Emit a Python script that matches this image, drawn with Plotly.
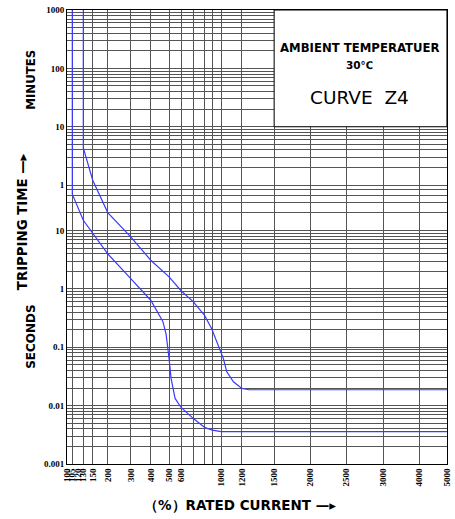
import numpy as np
import plotly.graph_objects as go

# ---- chart-paper current scale (% rated current -> paper units) ----
SCALE_PCT = [100, 105, 120, 130, 150, 200, 300, 400, 500, 600, 700, 800, 900,
             1000, 1200, 1500, 2000, 2500, 3000, 4000, 5000]
SCALE_UNIT = [0, 5.3, 11, 16.3, 25.7, 40.7, 63.7, 83.7, 102, 114, 126.3, 137.3,
              145.3, 154, 174.7, 207, 243, 279, 316, 352.3, 379.7]

X_LABELED = [100, 105, 120, 130, 150, 200, 300, 400, 500, 600, 1000, 1200,
             1500, 2000, 2500, 3000, 4000, 5000]
X_GRID = [100, 105, 130, 150, 200, 300, 400, 500, 600, 700, 800, 900, 1000,
          1200, 1500, 2000, 2500, 3000, 4000, 5000]

# ---- y axis: tripping time in seconds ----
Y_TICKS = [0.001, 0.01, 0.1, 1, 10, 60, 600, 6000, 60000]
Y_TICKTEXT = ["0.001", "0.01", "0.1", "1", "10", "1", "10", "100", "1000"]

# ---- curves (current %, seconds) ----
LOWER_PCT = [105, 105, 130, 150, 200, 300, 400, 466, 484, 500, 517, 550, 600,
             700, 808, 900, 1000, 5000]
LOWER_SEC = [60000, 41.9, 15, 8.9, 4.0, 1.5, 0.64, 0.277, 0.166, 0.064, 0.029,
             0.0133, 0.0093, 0.006, 0.0042, 0.0038, 0.0036, 0.0036]

UPPER_PCT = [130, 130, 150, 200, 300, 400, 500, 600, 700, 800, 890, 943, 989,
             1022, 1055, 1119, 1200, 1268, 5000]
UPPER_SEC = [60000, 260, 72.6, 20.3, 7.8, 3.1, 1.61, 0.93, 0.60, 0.355, 0.21,
             0.13, 0.088, 0.064, 0.038, 0.0256, 0.0197, 0.0187, 0.0187]


def xs(p):
    return np.interp(p, SCALE_PCT, SCALE_UNIT)


# y grid lines: seconds decades then minutes decades
y_grid = []
for d in [-3, -2, -1, 0]:
    for k in range(1, 10):
        y_grid.append(k * 10.0 ** d)
y_grid += [10, 20, 30, 40, 50]
for d in [0, 1, 2]:
    for k in range(1, 10):
        y_grid.append(60 * k * 10.0 ** d)
y_grid.append(60000)

fig = go.Figure()
curve_color = "#3a3aff"
fig.add_trace(go.Scatter(x=xs(LOWER_PCT), y=LOWER_SEC, mode="lines",
                         line=dict(color=curve_color, width=1.2),
                         showlegend=False, hoverinfo="skip"))
fig.add_trace(go.Scatter(x=xs(UPPER_PCT), y=UPPER_SEC, mode="lines",
                         line=dict(color=curve_color, width=1.2),
                         showlegend=False, hoverinfo="skip"))

tickfont = dict(family="Liberation Serif", size=9, color="black", weight="bold")
grid_col = "#555555"

fig.update_xaxes(
    range=[0, SCALE_UNIT[-1] + 0.05], automargin=False,
    tickmode="array", tickvals=xs(X_LABELED), ticktext=[str(v) for v in X_LABELED],
    tickangle=-90, tickfont=tickfont, ticks="", ticklabeloverflow="allow",
    showgrid=False, zeroline=False,
    minor=dict(tickvals=xs(X_GRID), showgrid=True, gridcolor=grid_col, gridwidth=1, ticks=""),
    showline=True, linecolor="black", linewidth=1, mirror=True,
)
fig.update_yaxes(
    type="log", range=[-3, np.log10(60000) + 0.0005], automargin=False,
    tickmode="array", tickvals=Y_TICKS, ticktext=Y_TICKTEXT,
    tickfont=tickfont, ticks="", ticklabeloverflow="allow",
    showgrid=False, zeroline=False,
    minor=dict(tickvals=y_grid, showgrid=True, gridcolor=grid_col, gridwidth=1, ticks=""),
    showline=True, linecolor="black", linewidth=1, mirror=True,
)

# white info box in upper right
fig.add_shape(type="rect", xref="x", yref="y",
              x0=xs(1500), x1=xs(5000), y0=600, y1=60000,
              fillcolor="white", line=dict(color="black", width=1), layer="above")

annots = [
    dict(text="AMBIENT TEMPERATUER", x=0.771, y=0.916,
         font=dict(family="DejaVu Sans", size=11.7, color="black", weight="bold")),
    dict(text="30℃", x=0.771, y=0.879,
         font=dict(family="DejaVu Sans", size=10.5, color="black", weight="bold")),
    dict(text="CURVE  Z4", x=0.771, y=0.808,
         font=dict(family="DejaVu Sans", size=18.5, color="black")),
    dict(text="TRIPPING TIME —▸", x=-0.118, y=0.533, textangle=-90,
         font=dict(family="DejaVu Sans", size=13.3, color="black", weight="bold")),
    dict(text="MINUTES", x=-0.095, y=0.846, textangle=-90,
         font=dict(family="DejaVu Sans", size=11.8, color="black", weight="bold")),
    dict(text="SECONDS", x=-0.095, y=0.282, textangle=-90,
         font=dict(family="DejaVu Sans", size=12, color="black", weight="bold")),
    dict(text="（%）RATED CURRENT —▸", x=0.455, y=-0.090,
         font=dict(family="DejaVu Sans", size=13.5, color="black", weight="bold")),
]
for a in annots:
    fig.add_annotation(xref="paper", yref="paper", showarrow=False,
                       xanchor="center", yanchor="middle", **a)

fig.update_layout(
    width=455, height=519,
    margin=dict(l=67, r=8, t=10, b=55),
    plot_bgcolor="white", paper_bgcolor="white",
    showlegend=False,
)
fig.write_html("out.html", config={"displayModeBar": False},
               post_script="document.body.style.margin='0';")
